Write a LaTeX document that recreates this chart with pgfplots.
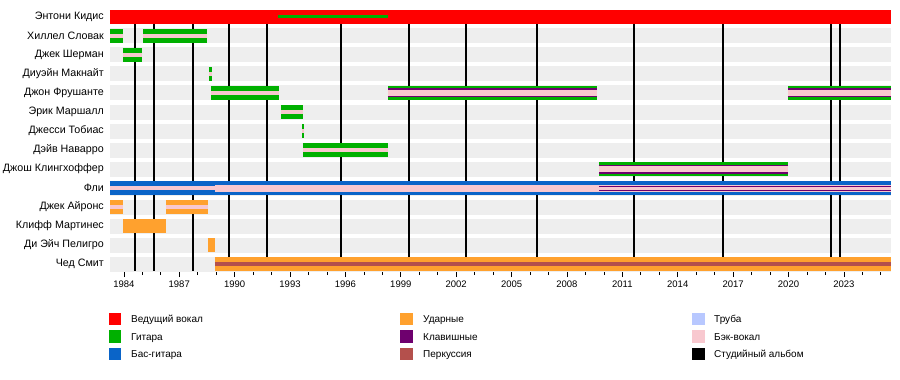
\documentclass[border=0pt]{standalone}
\usepackage{pgfplots}
\pgfplotsset{compat=1.18}
\usepackage{fontspec}
\setmainfont{Liberation Sans}
\definecolor{cvoc}{HTML}{FF0000}
\definecolor{cgtr}{HTML}{00B000}
\definecolor{cbass}{HTML}{0A64C8}
\definecolor{cdrm}{HTML}{FFA12E}
\definecolor{ckey}{HTML}{6E006E}
\definecolor{cperc}{HTML}{B4504C}
\definecolor{ctrp}{HTML}{B8C8FF}
\definecolor{cbv}{HTML}{F8C8CF}
\definecolor{cbg}{HTML}{EEEEEE}
\newcommand{\seg}[5]{\addplot[draw=#1, line width=#2, forget plot] coordinates {(#3,#5) (#4,#5)};}
\begin{document}
\begin{tikzpicture}
\path[use as bounding box] (0,0) rectangle (900pt,380pt);
\begin{axis}[
  at={(110pt,108pt)}, anchor=south west,
  scale only axis, width=781pt, height=263pt,
  xmin=1983.25, xmax=2025.55,
  ymin=-0.421, ymax=13.421, y dir=reverse,
  axis line style={draw=none},
  xtick={1984,1987,...,2023},
  minor xtick={1984,...,2025},
  xtick pos=bottom,
  tick align=outside,
  major tick length=5pt, minor tick length=3pt,
  tick style={black, line width=0.6pt},
  /pgf/number format/assume math mode=true,
  x tick label style={/pgf/number format/1000 sep={}, font=\fontsize{9.5}{11}\selectfont},
  ytick={0,...,13},
  yticklabels={Энтони Кидис, Хиллел Словак, Джек Шерман, Диуэйн Макнайт, Джон Фрушанте, Эрик Маршалл, Джесси Тобиас, Дэйв Наварро, Джош Клингхоффер, Фли, Джек Айронс, Клифф Мартинес, Ди Эйч Пелигро, Чед Смит},
  ytick style={draw=none},
  y tick label style={font=\fontsize{10.7}{12}\selectfont, inner sep=1pt},
]
% background bands
\pgfplotsinvokeforeach{1,...,13}{\addplot[cbg, line width=15pt, forget plot] coordinates {(1983.25,#1) (2025.55,#1)};}
% studio albums
\pgfplotsinvokeforeach{1984.60,1985.65,1987.76,1989.68,1991.73,1995.74,1999.46,2002.53,2006.36,2011.64,2016.46,2022.28,2022.78}{\addplot[black, line width=2pt, forget plot] coordinates {(#1,0) (#1,13.35)};}
% Kiedis
\seg{cvoc}{14pt}{1983.25}{2025.55}{0}
\seg{cgtr}{3.5pt}{1992.36}{1998.32}{-0.02}
% Slovak
\seg{cgtr}{13.5pt}{1983.25}{1983.94}{1}
\seg{cbv}{4pt}{1983.25}{1983.94}{1}
\seg{cgtr}{13.5pt}{1985.05}{1988.48}{1}
\seg{cbv}{4pt}{1985.05}{1988.48}{1}
% Sherman
\seg{cgtr}{13.5pt}{1983.95}{1984.98}{2}
\seg{cbv}{4pt}{1983.95}{1984.98}{2}
% McKnight
\seg{cgtr}{13.5pt}{1988.61}{1988.77}{3}
\seg{cbv}{4pt}{1988.61}{1988.77}{3}
% Frusciante
\seg{cgtr}{13.5pt}{1988.72}{1992.40}{4}
\seg{cbv}{4pt}{1988.72}{1992.40}{4}
\seg{cgtr}{13.5pt}{1998.32}{2009.61}{4}
\seg{ckey}{9pt}{1998.32}{2009.61}{4}
\seg{cbv}{5.5pt}{1998.32}{2009.61}{4}
\seg{cgtr}{13.5pt}{2019.98}{2025.55}{4}
\seg{ckey}{9pt}{2019.98}{2025.55}{4}
\seg{cbv}{5.5pt}{2019.98}{2025.55}{4}
% Marshall
\seg{cgtr}{13.5pt}{1992.51}{1993.70}{5}
\seg{cbv}{4pt}{1992.51}{1993.70}{5}
% Tobias
\seg{cgtr}{13.5pt}{1993.65}{1993.76}{6}
\seg{cbv}{4pt}{1993.65}{1993.76}{6}
% Navarro
\seg{cgtr}{13.5pt}{1993.70}{1998.29}{7}
\seg{cbv}{4pt}{1993.70}{1998.29}{7}
% Klinghoffer
\seg{cgtr}{13.5pt}{2009.73}{2019.95}{8}
\seg{ckey}{9pt}{2009.73}{2019.95}{8}
\seg{cbv}{5.5pt}{2009.73}{2019.95}{8}
% Flea
\seg{cbass}{14pt}{1983.25}{2025.55}{9}
\seg{cbv}{4.5pt}{1983.25}{1988.93}{9}
\seg{cbv}{7pt}{1988.93}{2025.55}{9}
\seg{ckey}{5pt}{2009.73}{2025.55}{9}
\seg{cbv}{3pt}{2009.73}{2025.55}{9}
% Irons
\seg{cdrm}{13.5pt}{1983.25}{1983.94}{10}
\seg{cbv}{4pt}{1983.25}{1983.94}{10}
\seg{cdrm}{13.5pt}{1986.28}{1988.55}{10}
\seg{cbv}{4pt}{1986.28}{1988.55}{10}
% Martinez
\seg{cdrm}{13.5pt}{1983.97}{1986.26}{11}
% Peligro
\seg{cdrm}{13.5pt}{1988.55}{1988.93}{12}
% Smith
\seg{cdrm}{13.5pt}{1988.93}{2025.55}{13}
\seg{cperc}{4pt}{1988.93}{2025.55}{13}
\end{axis}
% legend
\begin{scope}[font=\fontsize{10}{12}\selectfont]
\fill[cvoc]  (108.5pt,54.75pt) rectangle ++(12.5pt,12.5pt);
\fill[cgtr]  (108.5pt,37.25pt) rectangle ++(12.5pt,12.5pt);
\fill[cbass] (108.5pt,19.75pt) rectangle ++(12.5pt,12.5pt);
\fill[cdrm]  (400pt,54.75pt) rectangle ++(12.5pt,12.5pt);
\fill[ckey]  (400pt,37.25pt) rectangle ++(12.5pt,12.5pt);
\fill[cperc] (400pt,19.75pt) rectangle ++(12.5pt,12.5pt);
\fill[ctrp]  (692pt,54.75pt) rectangle ++(12.5pt,12.5pt);
\fill[cbv]   (692pt,37.25pt) rectangle ++(12.5pt,12.5pt);
\fill[black] (692pt,19.75pt) rectangle ++(12.5pt,12.5pt);
\node[anchor=base west, inner sep=0pt] at (131pt,57.4pt) {Ведущий вокал};
\node[anchor=base west, inner sep=0pt] at (131pt,39.9pt) {Гитара};
\node[anchor=base west, inner sep=0pt] at (131pt,22.4pt) {Бас-гитара};
\node[anchor=base west, inner sep=0pt] at (423pt,57.4pt) {Ударные};
\node[anchor=base west, inner sep=0pt] at (423pt,39.9pt) {Клавишные};
\node[anchor=base west, inner sep=0pt] at (423pt,22.4pt) {Перкуссия};
\node[anchor=base west, inner sep=0pt] at (714pt,57.4pt) {Труба};
\node[anchor=base west, inner sep=0pt] at (714pt,39.9pt) {Бэк-вокал};
\node[anchor=base west, inner sep=0pt] at (714pt,22.4pt) {Студийный альбом};
\end{scope}
\end{tikzpicture}
\end{document}
